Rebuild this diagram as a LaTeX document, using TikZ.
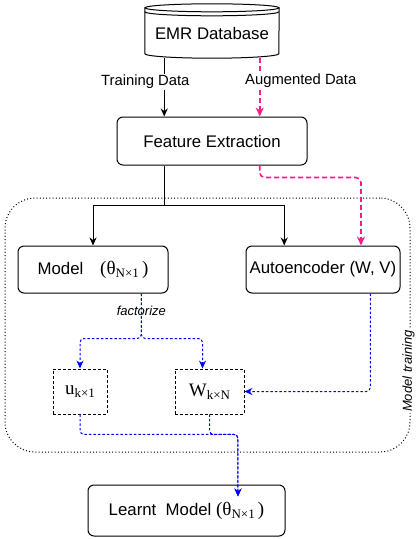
\documentclass[tikz,border=0pt]{standalone}
\usepackage{fontspec}
\setmainfont{Liberation Sans}
\newfontfamily\serif{Liberation Serif}
\usetikzlibrary{arrows.meta,positioning,calc}
\definecolor{AugPink}{HTML}{FF1A8C}
\definecolor{FacBlue}{HTML}{0000FF}
\newcommand{\mtx}[2]{{\serif\fontsize{19}{22}\selectfont #1\raisebox{-3pt}{\fontsize{13}{15}\selectfont #2}}}
\tikzset{
  box/.style={draw,rounded corners=6pt,line width=1pt,font=\fontsize{16.8}{20}\selectfont},
  dbox/.style={draw,line width=0.9pt,dash pattern=on 3pt off 2pt},
  lbl/.style={fill=white,inner sep=1pt,font=\fontsize{14.8}{17}\selectfont},
  arr/.style={-{Stealth[length=8pt,width=7pt]},line width=0.9pt},
  pinkarr/.style={-{Stealth[length=9pt,width=8pt]},draw=AugPink,line width=1.6pt,dash pattern=on 5pt off 3pt,rounded corners=5pt},
  bluearr/.style={-{Stealth[length=8pt,width=7pt]},draw=FacBlue,line width=1pt,dash pattern=on 2.5pt off 2pt,rounded corners=4pt},
}

\begin{document}
\begin{tikzpicture}[x=1pt,y=-1pt]
  \useasboundingbox (0,0) rectangle (416,539);
  % training frame
  \node[draw,line width=1pt,dash pattern=on 1pt off 2.2pt,rounded corners=30pt,minimum width=405pt,minimum height=254pt] (train) at (207.5,325) {};
  \node[lbl,rotate=90,font=\itshape\fontsize{13}{15}\selectfont] at ([xshift=-2pt,yshift=-46pt]train.east) {Model training};
  % database
  \node[minimum width=134pt,minimum height=50pt,font=\fontsize{16.8}{20}\selectfont] (db) at (212,33) {\raisebox{-4pt}{EMR Database}};
  \draw[line width=1pt] (db.north west) -- ([yshift=4.5pt]db.south west) arc[start angle=180,end angle=360,x radius=67pt,y radius=4.5pt] -- (db.north east);
  \draw[line width=1pt] (db.north) ellipse[x radius=67pt,y radius=4pt];
  \draw[line width=1pt] ([yshift=-4pt]db.north west) arc[start angle=180,end angle=360,x radius=67pt,y radius=4pt];
  % boxes
  \node[box,minimum width=190pt,minimum height=48pt] (fe) at (212,141) {Feature Extraction};
  \node[box,minimum width=150pt,minimum height=47pt] (model) at (93,269.5) {Model\quad\mtx{(θ}{N×1}\mtx{\,)}{}};
  \node[box,minimum width=154pt,minimum height=47pt] (ae) at (323,269.5) {Autoencoder (W, V)};
  \node[dbox,minimum width=54pt,minimum height=45pt] (u) at (80,391.5) {\mtx{u}{k×1}};
  \node[dbox,minimum width=69pt,minimum height=45pt] (W) at (209.5,391.5) {\mtx{W}{k×N}};
  \node[box,minimum width=197pt,minimum height=51pt] (learnt) at (186.5,510.5) {Learnt\ \ Model \mtx{(θ}{N×1}\mtx{\,)}{}};
  % anchor points
  \coordinate (ftl) at ($(fe.north west)!0.25!(fe.north east)$);
  \coordinate (ftr) at ($(fe.north west)!0.75!(fe.north east)$);
  \coordinate (fbl) at ($(fe.south west)!0.25!(fe.south east)$);
  \coordinate (fbr) at ($(fe.south west)!0.75!(fe.south east)$);
  \coordinate (aetl) at ($(ae.north west)!0.25!(ae.north east)$);
  \coordinate (aetr) at ($(ae.north west)!0.745!(ae.north east)$);
  \coordinate (aeb) at ($(ae.south west)!0.805!(ae.south east)$);
  \coordinate (mb) at ($(model.south west)!0.82!(model.south east)$);
  \coordinate (wt) at ($(W.north west)!0.4!(W.north east)$);
  \coordinate (lt) at ($(learnt.north west)!0.76!(learnt.north east)$);
  % connectors
  \draw[arr] (db.south -| ftl) -- (ftl) node[lbl,pos=0.41,xshift=-19pt] {Training Data};
  \draw[pinkarr] (db.south -| ftr) -- (ftr) node[lbl,pos=0.39,xshift=41pt,text=black] {Augmented Data};
  \draw[arr] (fbl) -- ++(0,40) -| (model.north);
  \draw[arr] (fbl) -- ++(0,40) -| (aetl);
  \draw[pinkarr] (fbr) -- ++(0,12) -| (aetr);
  \draw[bluearr] (mb) -- ++(0,45) node[lbl,pos=0.38,font=\itshape\fontsize{13}{15}\selectfont] {factorize} -| (u.north);
  \draw[bluearr] (mb) -- ++(0,45) -| (wt);
  \draw[bluearr] (aeb) |- (W.east);
  \draw[bluearr] (u.south) -- ++(0,20) -| ([yshift=-12pt]lt);
  \draw[bluearr] (W.south) -- ++(0,20) -| ([yshift=-12pt]lt);
\end{tikzpicture}
\end{document}
